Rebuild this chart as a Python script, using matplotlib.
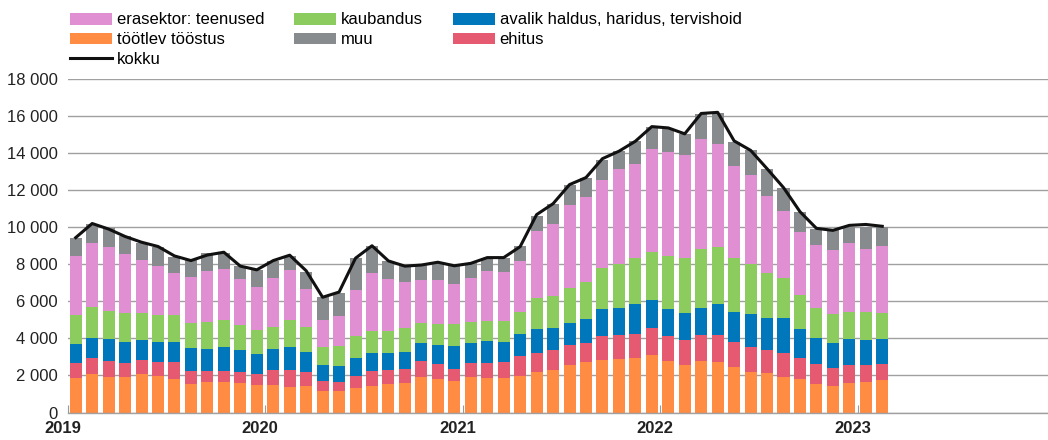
import matplotlib
matplotlib.use("Agg")
import matplotlib.pyplot as plt
import matplotlib.transforms as mtransforms
from matplotlib.patches import Patch
from matplotlib.lines import Line2D
import numpy as np

plt.rcParams['font.family'] = ['Liberation Sans', 'DejaVu Sans']

# Monthly data, Jan 2019 .. Feb 2023
years = ["2019", "2020", "2021", "2022", "2023"]

toostus = [1840, 2070, 1910, 1930, 2070, 1980, 1800, 1515, 1640, 1620, 1585, 1480,
           1480, 1390, 1405, 1155, 1155, 1315, 1440, 1550, 1595, 1920, 1810, 1720,
           1920, 1865, 1885, 1975, 2170, 2280, 2585, 2730, 2820, 2890, 2945, 3090,
           2765, 2585, 2765, 2730, 2460, 2205, 2115, 1920, 1795, 1540, 1415, 1595,
           1630, 1775]
ehitus = [830, 865, 865, 740, 740, 740, 900, 740, 610, 595, 575, 610,
          830, 880, 775, 560, 485, 665, 790, 740, 740, 845, 795, 615,
          775, 830, 830, 1100, 1065, 1080, 1065, 1025, 1315, 1300, 1315, 1460,
          1370, 1335, 1440, 1440, 1325, 1335, 1280, 1300, 1150, 1065, 975, 955,
          940, 830]
avalik = [1045, 1100, 1205, 1135, 1100, 1065, 1080, 1245, 1190, 1315, 1225, 1080,
          1135, 1280, 1080, 845, 845, 955, 990, 935, 955, 1010, 1065, 1280,
          1080, 1170, 1115, 1135, 1280, 1225, 1205, 1280, 1425, 1425, 1605, 1530,
          1440, 1425, 1460, 1695, 1665, 1785, 1730, 1855, 1550, 1440, 1370, 1405,
          1370, 1385]
kaubandus = [1530, 1640, 1480, 1550, 1480, 1480, 1460, 1350, 1425, 1460, 1315, 1280,
             1190, 1425, 1335, 955, 1080, 1170, 1155, 1190, 1260, 1045, 1100, 1135,
             1120, 1100, 1120, 1190, 1660, 1695, 1875, 2000, 2215, 2380, 2470, 2580,
             2865, 3010, 3135, 3045, 2865, 2665, 2380, 2160, 1840, 1620, 1530, 1495,
             1460, 1405]
teenused = [3225, 3460, 3495, 3210, 2830, 2650, 2290, 2450, 2795, 2775, 2490, 2325,
            2630, 2740, 2055, 1460, 1640, 2490, 3155, 2795, 2470, 2345, 2395, 2180,
            2360, 2650, 2650, 2795, 3605, 3910, 4485, 4575, 4795, 5135, 5080, 5550,
            5640, 5570, 5980, 5585, 4990, 4810, 4180, 3660, 3425, 3370, 3495, 3675,
            3440, 3570]
muu = [975, 1065, 990, 970, 955, 1010, 885, 935, 935, 865, 740, 920,
       935, 755, 955, 1245, 1245, 1730, 1460, 975, 865, 795, 900, 990,
       795, 700, 740, 790, 845, 1065, 1080, 1065, 1080, 975, 1225, 1190,
       1210, 1115, 1335, 1675, 1290, 1370, 1480, 1245, 1080, 885, 1045, 900,
       1190, 1065]
kokku = [9440, 10200, 9900, 9500, 9190, 8960, 8450, 8200, 8500, 8650, 7900, 7700,
         8200, 8490, 7650, 6220, 6500, 8330, 9000, 8180, 7900, 7960, 8110, 7920,
         8050, 8360, 8360, 8950, 10680, 11270, 12300, 12680, 13700, 14100, 14640, 15430,
         15360, 15040, 16140, 16200, 14660, 14150, 13160, 12140, 10840, 9940, 9830, 10100,
         10150, 10050]

labels = ["töötlev tööstus", "ehitus", "avalik haldus, haridus, tervishoid",
          "kaubandus", "erasektor: teenused", "muu"]
colors = ["#FF8C42", "#E55A70", "#0077BB", "#8CCB5E", "#E08FD2", "#878B8D"]
series = [toostus, ehitus, avalik, kaubandus, teenused, muu]

fig = plt.figure(figsize=(10.48, 4.40), dpi=100)
ax = fig.add_axes([67.5 / 1048, 27.5 / 440, (1048 - 67.5) / 1048, (412.5 - 79) / 440])

n = len(toostus)
x = np.arange(n) + 0.5
bottom = np.zeros(n)
for vals, col in zip(series, colors):
    v = np.array(vals, dtype=float)
    ax.bar(x, v, width=0.73, bottom=bottom, color=col, linewidth=0, zorder=2)
    bottom += v
ax.plot(x, kokku, color="#111111", lw=2.2, zorder=3, solid_joinstyle='round')

ax.set_xlim(0, 59.57)
ax.set_ylim(0, 18000)
yt = np.arange(0, 18001, 2000)
ax.set_yticks(yt)
ax.set_yticklabels([f"{v:,}".replace(",", " ") for v in yt], fontsize=12, color="#222222")
ax.yaxis.grid(True, color="#A0A0A0", lw=1.0, zorder=0)
ax.set_axisbelow(True)
ax.tick_params(axis='y', length=0, pad=7)

ax.set_xticks([0, 12, 24, 36, 48])
ax.set_xticklabels(years, fontsize=12, fontweight='bold', color="#222222")
ax.tick_params(axis='x', direction='in', length=6, color="#999999", pad=6)
offset = mtransforms.ScaledTranslation(-5 / 100, 0, fig.dpi_scale_trans)
for lab in ax.get_xticklabels():
    lab.set_transform(lab.get_transform() + offset)

for s in ["top", "right", "left"]:
    ax.spines[s].set_visible(False)
ax.spines["bottom"].set_color("#A0A0A0")
ax.spines["bottom"].set_linewidth(1.0)

h = {lab: Patch(facecolor=c, edgecolor='none') for lab, c in zip(labels, colors)}
kline = Line2D([0], [0], color="#111111", lw=2.2)
handles = [h["erasektor: teenused"], h["töötlev tööstus"], kline,
           h["kaubandus"], h["muu"],
           h["avalik haldus, haridus, tervishoid"], h["ehitus"]]
hlabels = ["erasektor: teenused", "töötlev tööstus", "kokku",
           "kaubandus", "muu",
           "avalik haldus, haridus, tervishoid", "ehitus"]
fig.legend(handles, hlabels, loc='upper left', bbox_to_anchor=(70 / 1048, 1 - 12.5 / 440),
           ncol=3, frameon=False, fontsize=12, handlelength=2.5, handleheight=0.72,
           handletextpad=0.3, columnspacing=1.8, labelspacing=0.29,
           borderpad=0, borderaxespad=0)

fig.savefig("out.png", dpi=100)
